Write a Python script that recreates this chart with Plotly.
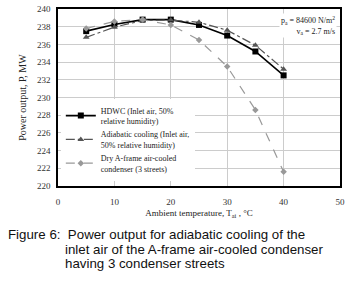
import plotly.graph_objects as go

temps = [5, 10, 15, 20, 25, 30, 35, 40]
hdwc = [237.5, 238.25, 238.8, 238.8, 238.2, 237.0, 235.2, 232.5]
adiabatic = [236.8, 237.95, 238.7, 238.75, 238.5, 237.6, 235.9, 233.2]
dry = [237.8, 238.6, 238.8, 238.2, 236.5, 233.5, 228.6, 221.6]

names = ["HDWC (Inlet air, 50%<br>relative humidity)",
         "Adiabatic cooling (Inlet air,<br>50% relative humidity)",
         "Dry A-frame air-cooled<br>condenser (3 streets)"]

W, H = 352, 285
L, R, T, B = 58, 12, 4, 99
pw, ph = W - L - R, H - T - B

def px(x):
    return (x - L) / pw

def py(y):
    return (T + ph - y) / ph

serif = "Liberation Serif"
fig = go.Figure()
fig.add_trace(go.Scatter(x=temps, y=hdwc, name=names[0], mode="lines+markers",
                         line=dict(color="black", width=1.6),
                         marker=dict(symbol="square", size=6, color="black")))
fig.add_trace(go.Scatter(x=temps, y=adiabatic, name=names[1], mode="lines+markers",
                         line=dict(color="#555555", width=1.2, dash="dashdot"),
                         marker=dict(symbol="triangle-up", size=6, color="#555555")))
fig.add_trace(go.Scatter(x=temps, y=dry, name=names[2], mode="lines+markers",
                         line=dict(color="#999999", width=1.2, dash="dash"),
                         marker=dict(symbol="diamond", size=5, color="#999999")))

axis_common = dict(showline=True, linecolor="black", linewidth=1.5, mirror=True,
                   showgrid=True, gridcolor="#cccccc", gridwidth=1, ticks="",
                   zeroline=False, tickfont=dict(family=serif, size=9, color="#333"))
fig.update_xaxes(range=[0, 50], dtick=10, **axis_common, ticklabelstandoff=6,
                 title=dict(text="Ambient temperature, T<sub>ai</sub> , °C",
                            font=dict(family=serif, size=9, color="#222"), standoff=4))
fig.update_yaxes(range=[220, 240], dtick=2, **axis_common, ticklabelstandoff=4,
                 title=dict(text="Power output, P, MW",
                            font=dict(family=serif, size=10, color="#222"), standoff=8))

fig.add_annotation(xref="paper", yref="paper", x=px(337), y=py(8), xanchor="right", yanchor="top",
                   text="p<sub>a</sub> = 84600 N/m<sup>2</sup><br>v<sub>a</sub> = 2.7 m/s",
                   align="right", showarrow=False, bgcolor="white",
                   font=dict(family=serif, size=8, color="#222"))

cap_font = dict(family="Liberation Sans", size=13.3, color="#111")
fig.add_annotation(xref="paper", yref="paper", x=px(6), y=py(236), xanchor="left", yanchor="middle",
                   text="Figure 6:  Power output for adiabatic cooling of the", showarrow=False, font=cap_font)
fig.add_annotation(xref="paper", yref="paper", x=px(63), y=py(251), xanchor="left", yanchor="middle",
                   text="inlet air of the A-frame air-cooled condenser", showarrow=False, font=cap_font)
fig.add_annotation(xref="paper", yref="paper", x=px(63), y=py(266), xanchor="left", yanchor="middle",
                   text="having 3 condenser streets", showarrow=False, font=cap_font)

fig.update_layout(
    width=W, height=H, margin=dict(l=L, r=R, t=T, b=B),
    paper_bgcolor="white", plot_bgcolor="white",
    showlegend=True,
    legend=dict(x=0.01, y=0.03, xanchor="left", yanchor="bottom", bgcolor="white",
                font=dict(family=serif, size=8, color="#222"), itemwidth=30,
                tracegroupgap=5),
)
fig.write_html("out.html", config={"displayModeBar": False},
               post_script="document.body.style.margin='0';")
